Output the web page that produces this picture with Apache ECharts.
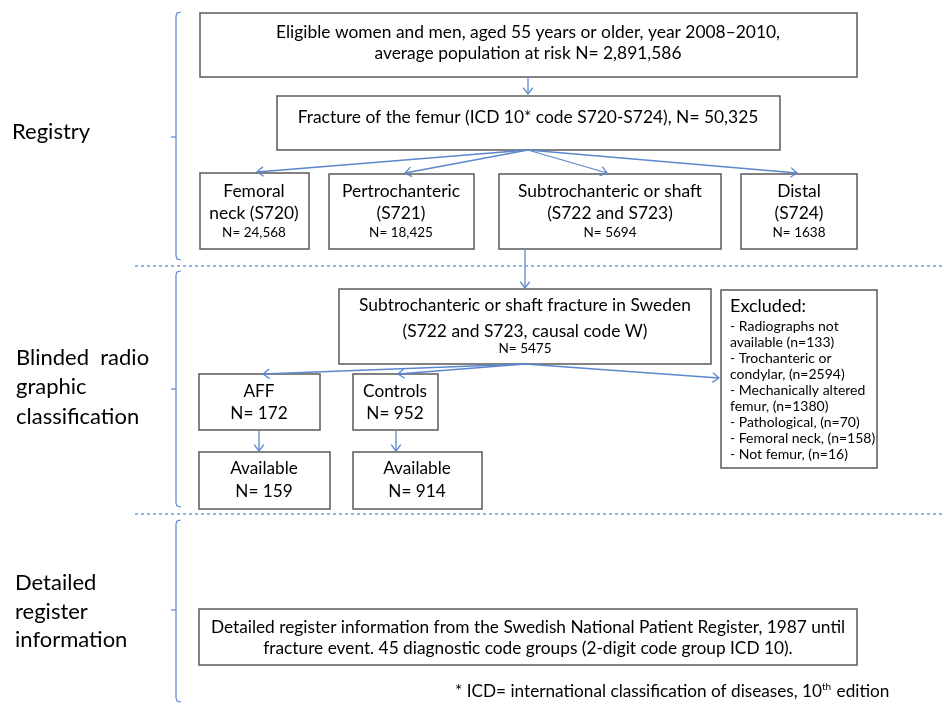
<!DOCTYPE html>
<html>
<head>
<meta charset="utf-8">
<title>Study flowchart</title>
<script src="https://cdn.jsdelivr.net/npm/echarts@6/dist/echarts.min.js"></script>
<style>
    html, body { margin: 0; padding: 0; background: #fff; }
    #main { width: 944px; height: 706px; }
</style>
</head>
<body>
<div id="main"></div>
<script>
// diagram units = pixels of the 944x706 picture, y grows downwards

// boxes: [left, top, right, bottom]
var boxes = [
    [200, 13, 857, 77],     // eligible population
    [277, 96, 780, 150],    // fracture of the femur
    [200, 173, 309, 249],   // femoral neck
    [329, 174, 474, 249],   // pertrochanteric
    [499, 174, 721, 249],   // subtrochanteric or shaft
    [741, 174, 857, 249],   // distal
    [339, 289, 711, 364],   // subtroch in Sweden
    [721, 290, 877, 468],   // excluded
    [199, 374, 320, 430],   // AFF
    [353, 374, 438, 430],   // controls
    [199, 452, 330, 509],   // available AFF
    [353, 452, 482, 509],   // available controls
    [199, 609, 857, 665]    // detailed register
];

// arrows: [x0, y0, x1, y1]
var arrows = [
    [528, 77, 528, 94],
    [528, 150, 257, 172],
    [528, 150, 405, 173],
    [528, 150, 607, 173],
    [528, 150, 797, 173],
    [525, 249, 525, 288],
    [525, 364, 263, 374],
    [525, 364, 398, 374],
    [525, 364, 719, 378],
    [259, 430, 259, 451],
    [396, 430, 396, 451]
];

// braces: [x, top, middle, bottom]
var braces = [
    [176, 12, 137, 260],
    [176, 271, 389, 507],
    [176, 520, 610, 702]
];

// dotted separators: [x0, x1, y]
var separators = [
    [135, 944, 266],
    [135, 944, 514]
];

// texts: [x, y, text, kind]
var texts = [
    [12, 132, 'Registry', 'side'],
    [16, 358, 'Blinded  radio', 'side'],
    [16, 387, 'graphic', 'side'],
    [16, 417, 'classification', 'side'],
    [15, 583, 'Detailed', 'side'],
    [15, 612, 'register', 'side'],
    [15, 640, 'information', 'side'],

    [528, 32, 'Eligible women and men, aged 55 years or older, year 2008\u20132010,', 'body'],
    [528, 53, 'average population at risk N= 2,891,586', 'body'],
    [528, 117, 'Fracture of the femur (ICD 10* code S720-S724), N= 50,325', 'body'],

    [254, 191, 'Femoral', 'body'],
    [254, 213, 'neck (S720)', 'body'],
    [254, 233, 'N= 24,568', 'small'],
    [401, 191, 'Pertrochanteric', 'body'],
    [401, 213, '(S721)', 'body'],
    [401, 233, 'N= 18,425', 'small'],
    [610, 191, 'Subtrochanteric or shaft', 'body'],
    [610, 213, '(S722 and S723)', 'body'],
    [610, 233, 'N= 5694', 'small'],
    [799, 191, 'Distal', 'body'],
    [799, 213, '(S724)', 'body'],
    [799, 233, 'N= 1638', 'small'],

    [525, 305, 'Subtrochanteric or shaft fracture in Sweden', 'body'],
    [525, 331, '(S722 and S723, causal code W)', 'body'],
    [525, 349, 'N= 5475', 'small'],

    [730, 306, 'Excluded:', 'head'],
    [730, 326, '- Radiographs not', 'excl'],
    [730, 342, 'available (n=133)', 'excl'],
    [730, 358, '- Trochanteric or', 'excl'],
    [730, 374, 'condylar, (n=2594)', 'excl'],
    [730, 390, '- Mechanically altered', 'excl'],
    [730, 406, 'femur, (n=1380)', 'excl'],
    [730, 422, '- Pathological, (n=70)', 'excl'],
    [730, 438, '- Femoral neck, (n=158)', 'excl'],
    [730, 454, '- Not femur, (n=16)', 'excl'],

    [259, 391, 'AFF', 'big'],
    [259, 413, 'N= 172', 'big'],
    [395, 391, 'Controls', 'big'],
    [395, 413, 'N= 952', 'big'],
    [264, 468, 'Available', 'big'],
    [264, 491, 'N= 159', 'big'],
    [417, 468, 'Available', 'big'],
    [417, 491, 'N= 914', 'big'],

    [528, 627, 'Detailed register information from the Swedish National Patient Register, 1987 until', 'det'],
    [528, 648, 'fracture event. 45 diagnostic code groups (2-digit code group ICD 10).', 'det'],

    [455, 691, '* ICD= international classification of diseases, 10{sup|th} edition', 'note']
];

var FONT = 'Lato, "Noto Sans", sans-serif';
var kinds = {
    side:  { size: 22, align: 'left' },
    body:  { size: 17.4, align: 'center' },
    small: { size: 13.5, align: 'center' },
    big:   { size: 17.2, align: 'center' },
    head:  { size: 18, align: 'left' },
    excl:  { size: 14, align: 'left' },
    det:   { size: 17.3, align: 'center' },
    note:  { size: 17.2, align: 'left' }
};

var BOX_COLOR = '#5a5a5a';
var BLUE = '#5b87cf';
var INK = '#000';

function renderBox(params, api) {
    var p0 = api.coord([api.value(0), api.value(1)]);
    var p1 = api.coord([api.value(2), api.value(3)]);
    return {
        type: 'rect',
        shape: { x: p0[0], y: p0[1], width: p1[0] - p0[0], height: p1[1] - p0[1] },
        style: { fill: '#fff', stroke: BOX_COLOR, lineWidth: 1.5 }
    };
}

function renderArrow(params, api) {
    var p0 = api.coord([api.value(0), api.value(1)]);
    var p1 = api.coord([api.value(2), api.value(3)]);
    var a = Math.atan2(p1[1] - p0[1], p1[0] - p0[0]);
    var len = 8, spread = 0.65;
    var h1 = [p1[0] - len * Math.cos(a - spread), p1[1] - len * Math.sin(a - spread)];
    var h2 = [p1[0] - len * Math.cos(a + spread), p1[1] - len * Math.sin(a + spread)];
    return {
        type: 'group',
        children: [
            { type: 'line', shape: { x1: p0[0], y1: p0[1], x2: p1[0], y2: p1[1] },
              style: { stroke: BLUE, lineWidth: 1.3 } },
            { type: 'polyline', shape: { points: [h1, p1, h2] },
              style: { stroke: BLUE, lineWidth: 1.3, fill: null } }
        ]
    };
}

function renderBrace(params, api) {
    var t = api.coord([api.value(0), api.value(1)]);
    var m = api.coord([api.value(0), api.value(2)]);
    var b = api.coord([api.value(0), api.value(3)]);
    var x = t[0];
    return {
        type: 'group',
        children: [
            { type: 'polyline',
              shape: { points: [[x + 5, t[1]], [x + 1, t[1] + 1], [x, t[1] + 4], [x, b[1] - 4], [x + 1, b[1] - 1], [x + 5, b[1]]] },
              style: { stroke: BLUE, lineWidth: 1.2, fill: null } },
            { type: 'line', shape: { x1: x, y1: m[1], x2: x - 5, y2: m[1] },
              style: { stroke: BLUE, lineWidth: 1.2 } }
        ]
    };
}

function renderSeparator(params, api) {
    var p0 = api.coord([api.value(0), api.value(2)]);
    var p1 = api.coord([api.value(1), api.value(2)]);
    return {
        type: 'line',
        shape: { x1: p0[0], y1: p0[1], x2: p1[0], y2: p1[1] },
        style: { stroke: '#6fa0d8', lineWidth: 1.5, lineDash: [3, 3] }
    };
}

function renderText(params, api) {
    var t = texts[params.dataIndex];
    var k = kinds[t[3]];
    var p = api.coord([t[0], t[1]]);
    return {
        type: 'text',
        x: p[0],
        y: p[1],
        style: {
            text: t[2],
            fill: INK,
            font: k.size + 'px ' + FONT,
            textAlign: k.align,
            textVerticalAlign: 'middle',
            rich: {
                sup: { fontSize: 10, fontFamily: FONT, fill: INK, padding: [0, 1, 9, 0] }
            }
        }
    };
}

var option = {
    animation: false,
    backgroundColor: '#fff',
    grid: { left: 0, right: 0, top: 0, bottom: 0 },
    xAxis: { type: 'value', min: 0, max: 944, show: false },
    yAxis: { type: 'value', min: 0, max: 706, inverse: true, show: false },
    series: [
        { type: 'custom', name: 'separators', renderItem: renderSeparator, data: separators, silent: true },
        { type: 'custom', name: 'braces', renderItem: renderBrace, data: braces, silent: true },
        { type: 'custom', name: 'boxes', renderItem: renderBox, data: boxes, silent: true },
        { type: 'custom', name: 'arrows', renderItem: renderArrow, data: arrows, silent: true },
        { type: 'custom', name: 'texts', renderItem: renderText,
          data: texts.map(function (t) { return [t[0], t[1]]; }), silent: true }
    ]
};

var chart = echarts.init(document.getElementById('main'));
chart.setOption(option);
</script>
</body>
</html>
